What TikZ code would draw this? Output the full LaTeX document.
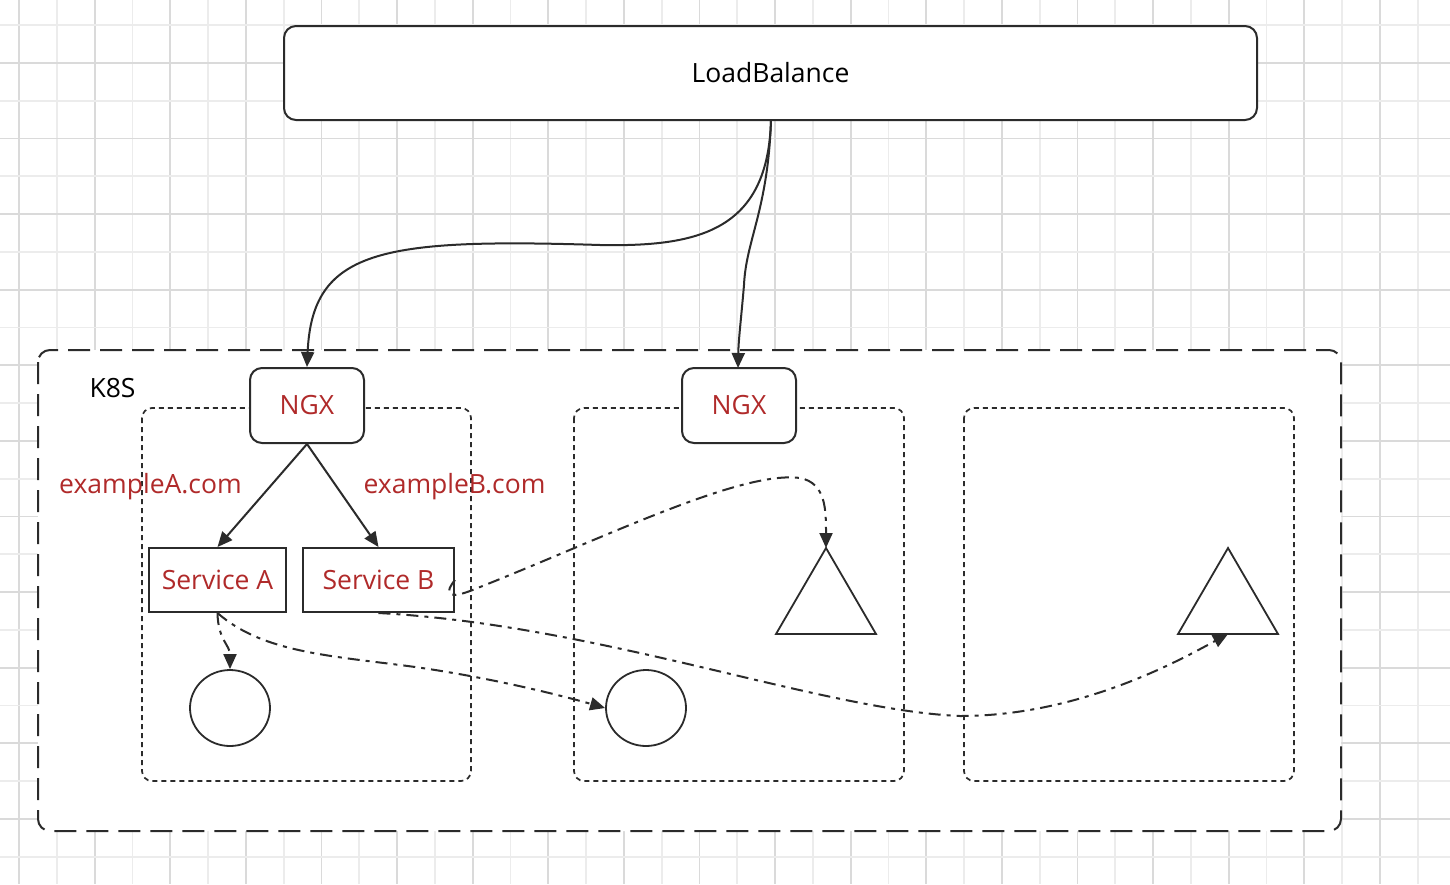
\documentclass[tikz,border=0pt]{standalone}
\usepackage{fontspec}
\setmainfont{Open Sans}
\usetikzlibrary{arrows.meta,shapes.geometric}
\definecolor{ln}{HTML}{2B2B2B}
\definecolor{rd}{HTML}{B02A2A}
\definecolor{gdark}{HTML}{DADADA}
\definecolor{glight}{HTML}{ECECEC}
\tikzset{
  every node/.style={font=\fontsize{26.5}{30}\selectfont},
  lbbox/.style={draw=ln, line width=2pt, fill=white, rounded corners=12pt},
  k8sbox/.style={draw=ln, line width=2pt, fill=white, rounded corners=12pt, dash pattern=on 22pt off 10pt},
  podbox/.style={draw=ln, line width=1.7pt, rounded corners=10pt, dash pattern=on 5pt off 4pt},
  ngxbox/.style={draw=ln, line width=2pt, fill=white, rounded corners=12pt, text=rd, minimum width=114pt, minimum height=75pt, inner sep=0pt},
  svcbox/.style={draw=ln, line width=2pt, fill=white, text=rd, minimum height=64pt, inner sep=0pt},
  ball/.style={draw=ln, line width=1.8pt, ellipse, minimum width=80pt, minimum height=76pt, inner sep=0pt},
  tri/.style={draw=ln, line width=1.8pt},
  conn/.style={draw=ln, line width=2pt, -{Triangle[length=15pt,width=13pt]}},
  dconn/.style={conn, dash pattern=on 12pt off 6pt on 4pt off 6pt},
}
\begin{document}
\begin{tikzpicture}[x=1pt,y=-1pt]
\useasboundingbox (0,0) rectangle (1450,884);
\fill[white] (0,0) rectangle (1450,884);
% grid
\foreach \k in {0,...,38}{
  \pgfmathsetmacro{\xx}{19+37.8*\k}
  \pgfmathparse{mod(\k,2)==0 ? 1 : 0}
  \ifnum\pgfmathresult=1
    \draw[gdark, line width=1.8pt] (\xx,0) -- (\xx,884);
  \else
    \draw[glight, line width=1.8pt] (\xx,0) -- (\xx,884);
  \fi
}
\foreach \k in {0,...,23}{
  \pgfmathsetmacro{\yy}{25+37.8*\k}
  \pgfmathparse{mod(\k,2)==1 ? 1 : 0}
  \ifnum\pgfmathresult=1
    \draw[gdark, line width=1.8pt] (0,\yy) -- (1450,\yy);
  \else
    \draw[glight, line width=1.8pt] (0,\yy) -- (1450,\yy);
  \fi
}
% boxes
\draw[lbbox] (284,26) rectangle (1257,120);
\node (lb) at (770.5,73) {LoadBalance};
\coordinate (lbb) at (771,120);
\draw[k8sbox] (38,350) rectangle (1341,831);
\node[anchor=west] (k8s) at (86,388) {K8S};
\draw[podbox] (142,408) rectangle (471,781);
\draw[podbox] (574,408) rectangle (904,781);
\draw[podbox] (964,408) rectangle (1294,781);
\node[ngxbox] (ngx1) at (307,405.5) {NGX};
\node[ngxbox] (ngx2) at (739,405.5) {NGX};
\node[svcbox, minimum width=137pt] (sa) at (217.5,580) {Service A};
\node[svcbox, minimum width=151pt] (sb) at (378.5,580) {Service B};
\node[text=rd] (la) at (150.5,487) {exampleA.com};
\node[text=rd] (lbl) at (454.5,487) {exampleB.com};
\node[ball] (c1) at (230,708) {};
\node[ball] (c2) at (646,708) {};
\draw[tri] (826,548) -- (876,634) -- (776,634) -- cycle;
\draw[tri] (1228,548) -- (1278,634) -- (1178,634) -- cycle;
\coordinate (t1) at (826,548);
\coordinate (t2) at (1228,634);
\coordinate (n2top) at (738,368);
% connectors
\draw[conn] (lbb) .. controls (768,230) and (700,247) .. (600,245)
  .. controls (380,238) and (312,250) .. (ngx1.north);
\draw[conn] (lbb) .. controls (768,210) and (746,240) .. (744,285)
  .. controls (741,320) and (738.5,340) .. (n2top);
\draw[conn] (ngx1.south) -- (sa.north);
\draw[conn] (ngx1.south) -- (sb.north);
\draw[dconn] (sa.south) .. controls (218,640) and (230,645) .. (c1.north);
\draw[dconn] (sa.south) .. controls (260,650) and (320,655) .. (400,665)
  .. controls (480,675) and (560,695) .. (c2.west);
\draw[dconn] (sb.east) .. controls (445,592) and (446,600) .. (470,591)
  .. controls (600,540) and (740,470) .. (800,478)
  .. controls (826,483) and (826,510) .. (t1);
\draw[dconn] (sb.south) .. controls (600,625) and (820,710) .. (960,716)
  .. controls (1080,716) and (1180,660) .. (t2);
\end{tikzpicture}
\end{document}
